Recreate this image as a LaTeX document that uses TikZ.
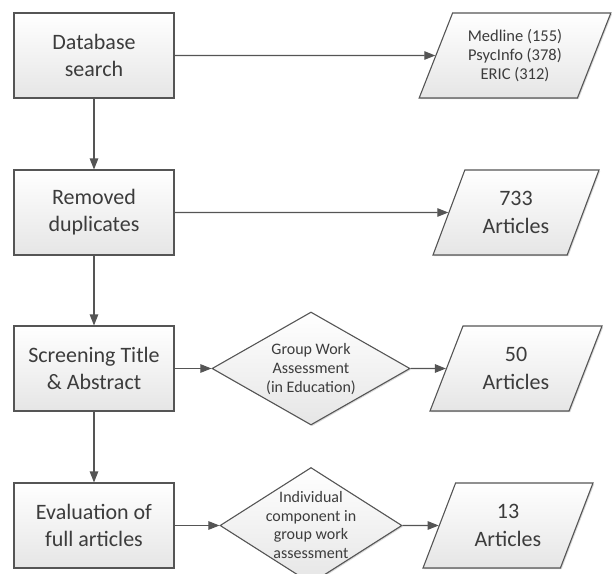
\documentclass[tikz,border=0pt]{standalone}
\usepackage{fontspec}
\setmainfont{Carlito}
\usetikzlibrary{shapes.geometric,arrows.meta,shadows}
\definecolor{linec}{HTML}{555555}
\definecolor{textc}{HTML}{3C3C3C}
\tikzset{
  shapebase/.style={draw=linec, line width=1.1pt, top color=white, bottom color=black!10, text=textc,
    drop shadow={shadow xshift=1.2pt, shadow yshift=-1.2pt, opacity=0.15, fill=black}},
  procbox/.style={shapebase, rectangle, minimum width=160pt, minimum height=85pt, inner sep=0pt,
    align=center, font=\fontsize{22}{27}\selectfont},
  databox/.style={shapebase, trapezium, trapezium left angle=64, trapezium right angle=116,
    trapezium stretches=true, minimum height=85pt, inner sep=0pt, align=center,
    font=\fontsize{22}{28}\selectfont},
  decbox/.style={shapebase, diamond, inner sep=0pt},
  dtext/.style={text=textc, align=center, font=\fontsize{16}{18.8}\selectfont},
  flow/.style={draw=linec, line width=1.1pt, -{Triangle[length=11pt,width=8.5pt]}},
}
\begin{document}
\begin{tikzpicture}[x=1pt,y=-1pt]
\useasboundingbox (0,0) rectangle (612,573);
% process boxes
\node[procbox] (b1) at (94,55.5) {Database\\search};
\node[procbox] (b2) at (94,212.5) {Removed\\duplicates};
\node[procbox] (b3) at (94,368.5) {Screening Title\\\& Abstract};
\node[procbox] (b4) at (94,525.5) {Evaluation of\\full articles};
% data shapes
\node[databox, minimum width=192pt, font=\fontsize{16.5}{18.7}\selectfont] (p1) at (515,55.5) {Medline (155)\\PsycInfo (378)\\ERIC (312)};
\node[databox, minimum width=166pt] (p2) at (516,212.5) {733\\Articles};
\node[databox, minimum width=172pt] (p3) at (516,368.5) {50\\Articles};
\node[databox, minimum width=170pt] (p4) at (508,525.5) {13\\Articles};
% decisions
\node[decbox, minimum width=198pt, minimum height=113pt] (d1) at (311,368.5) {};
\node[dtext] (d1t) at (311,369) {Group Work\\Assessment\\(in Education)};
\node[decbox, minimum width=182pt, minimum height=116pt] (d2) at (311,525.5) {};
\node[dtext] (d2t) at (311,525) {Individual\\component in\\group work\\assessment};
% connectors
\draw[flow] (b1) -- (b2);
\draw[flow] (b2) -- (b3);
\draw[flow] (b3) -- (b4);
\draw[flow] (b1) -- (p1);
\draw[flow] (b2) -- (p2);
\draw[flow] (b3) -- (d1);
\draw[flow] (d1) -- (p3);
\draw[flow] (b4) -- (d2);
\draw[flow] (d2) -- (p4);
\end{tikzpicture}
\end{document}
